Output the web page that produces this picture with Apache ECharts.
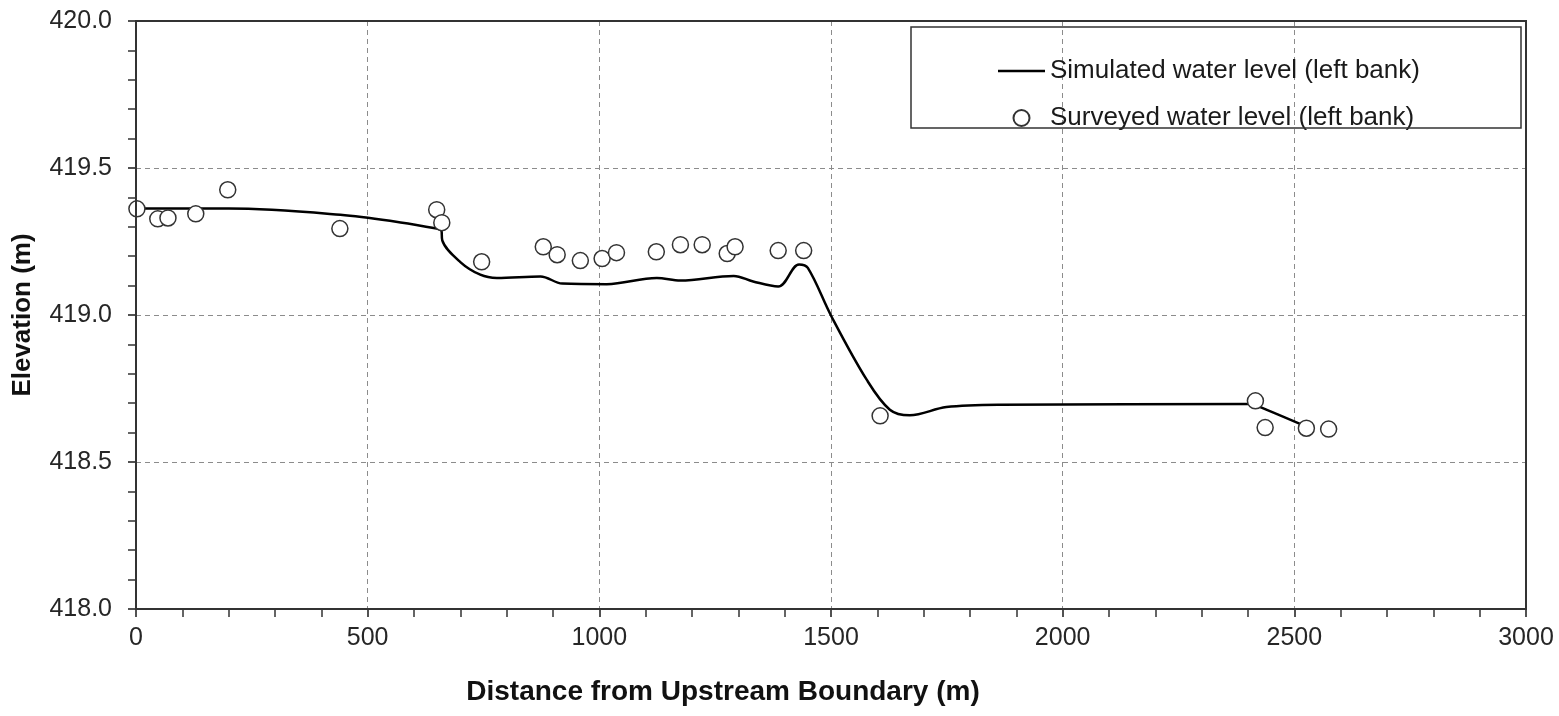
<!DOCTYPE html>
<html>
<head>
<meta charset="utf-8">
<script src="https://cdn.jsdelivr.net/npm/echarts@6/dist/echarts.min.js"></script>
<style>
  html, body { margin: 0; padding: 0; background: #fff; }
  #chart { width: 1559px; height: 716px; }
</style>
</head>
<body>
<div id="chart"></div>
<script>
// Simulated water surface along the left bank: [distance (m), elevation (m)]
const simulatedLeftBank = [
  [0, 419.362], [200, 419.362], [441, 419.341], [571, 419.315], [649, 419.294],
  [659, 419.289], [661, 419.254], [700, 419.180], [743, 419.137], [779, 419.126],
  [873, 419.131], [920, 419.107], [1016, 419.105], [1124, 419.126], [1175, 419.117],
  [1290, 419.133], [1332, 419.114], [1386, 419.097], [1431, 419.172], [1450, 419.160],
  [1501, 418.995], [1577, 418.780], [1627, 418.678], [1670, 418.659], [1749, 418.687],
  [1864, 418.695], [2406, 418.697], [2421, 418.690], [2525, 418.621]
];

// Surveyed water levels along the left bank: [distance (m), elevation (m)]
const surveyedLeftBank = [
  [2, 419.361], [47, 419.327], [69, 419.330], [129, 419.344], [198, 419.426],
  [440, 419.294], [649, 419.358], [660, 419.314], [746, 419.181], [879, 419.232],
  [909, 419.205], [959, 419.185], [1006, 419.192], [1037, 419.212], [1123, 419.215],
  [1175, 419.239], [1222, 419.239], [1276, 419.209], [1293, 419.232], [1386, 419.219],
  [1441, 419.219], [1606, 418.657], [2416, 418.708], [2437, 418.617], [2526, 418.615],
  [2574, 418.612]
];

// Axis ranges and tick spacing
const xRange = [0, 3000];
const xStep = 500;
const yRange = [418, 420];
const yStep = 0.5;

const seriesNames = ['Simulated water level (left bank)', 'Surveyed water level (left bank)'];

const FONT = '"Liberation Sans", Arial, sans-serif';

const chart = echarts.init(document.getElementById('chart'), null, { renderer: 'canvas' });

const gridLine = { show: true, lineStyle: { color: '#8c8c8c', width: 1, type: [5, 4] } };
const tickStyle = { show: true, inside: false, length: 8, lineStyle: { color: '#1a1a1a', width: 1.5 } };
const minorTickStyle = { show: true, splitNumber: 5, length: 8, lineStyle: { color: '#333333', width: 1.5 } };

chart.setOption({
  animation: false,
  backgroundColor: '#ffffff',
  grid: {
    left: 136, right: 33, top: 21, bottom: 107, z: 5,
    show: true, borderColor: '#333333', borderWidth: 2, backgroundColor: 'transparent'
  },
  xAxis: {
    type: 'value',
    min: xRange[0], max: xRange[1], interval: xStep,
    axisLine: { show: true, onZero: false, lineStyle: { color: '#111', width: 2 } },
    axisTick: tickStyle,
    minorTick: minorTickStyle,
    splitLine: gridLine,
    axisLabel: {
      color: '#262626', fontFamily: FONT, fontSize: 25, margin: 17,
      formatter: v => String(v)
    },
    name: 'Distance from Upstream Boundary (m)',
    nameLocation: 'middle',
    nameGap: 69,
    nameTextStyle: {
      color: '#111', fontFamily: FONT, fontSize: 28, fontWeight: 'bold',
      padding: [0, 216, 0, 0]
    }
  },
  yAxis: {
    type: 'value',
    min: yRange[0], max: yRange[1], interval: yStep,
    axisLine: { show: true, onZero: false, lineStyle: { color: '#111', width: 2 } },
    axisTick: tickStyle,
    minorTick: minorTickStyle,
    splitLine: gridLine,
    axisLabel: {
      color: '#262626', fontFamily: FONT, fontSize: 25, margin: 24,
      formatter: v => v.toFixed(1)
    },
    name: 'Elevation (m)',
    nameLocation: 'middle',
    nameRotate: 90,
    nameGap: 100,
    nameTextStyle: { color: '#111', fontFamily: FONT, fontSize: 26, fontWeight: 'bold' }
  },
  legend: {
    orient: 'vertical',
    left: 998, top: 58, padding: 0,
    itemWidth: 47, itemHeight: 16, itemGap: 21,
    textStyle: { color: '#1a1a1a', fontFamily: FONT, fontSize: 26 },
    data: [
      { name: seriesNames[0], icon: 'path://M0,0H47V2.5H0Z' },
      { name: seriesNames[1] }
    ]
  },
  graphic: [{
    type: 'rect',
    shape: { x: 911, y: 27, width: 610, height: 101 },
    style: { fill: 'none', stroke: '#333333', lineWidth: 1.5 },
    z: 100
  }],
  series: [
    {
      name: seriesNames[0],
      type: 'line',
      data: simulatedLeftBank,
      smooth: 0.35,
      symbol: 'none',
      lineStyle: { color: '#000000', width: 2.5 },
      itemStyle: { color: '#000000' },
      z: 2
    },
    {
      name: seriesNames[1],
      type: 'scatter',
      data: surveyedLeftBank,
      symbol: 'circle',
      symbolSize: 16,
      itemStyle: { color: '#ffffff', borderColor: '#333333', borderWidth: 1.5, opacity: 1 },
      z: 3
    }
  ]
});
</script>
</body>
</html>
